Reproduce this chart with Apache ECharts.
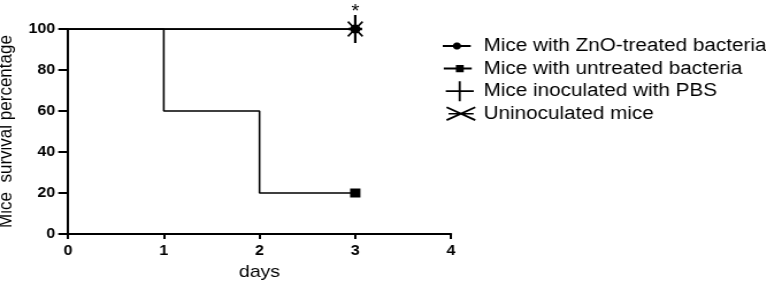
<!DOCTYPE html>
<html><head><meta charset="utf-8">
<script src="https://cdn.jsdelivr.net/npm/echarts@6/dist/echarts.min.js"></script>
<style>
html,body{margin:0;padding:0;background:#fff;overflow:hidden}
#wrap{width:766px;height:283px;overflow:hidden}
#c{width:666px;height:283px;transform:scaleX(1.15);transform-origin:0 0}
</style>
</head><body><div id="wrap"><div id="c"></div></div>
<script>
const seriesNames = ['Mice with ZnO-treated bacteria','Mice with untreated bacteria','Mice inoculated with PBS','Uninoculated mice'];
const days = [0, 1, 2, 3];
const znoValues = [100, 100, 100, 100];
const untreatedValues = [100, 60, 20, 20];
const pbsValues = [100, 100, 100, 100];
const uninocValues = [100, 100, 100, 100];
const xTicks = [0, 1, 2, 3, 4];
const yTicks = [0, 20, 40, 60, 80, 100];

const S = 1.15; // horizontal stretch of the reference picture
const px = v => v / S;

function orient(pts) {
  let a = 0;
  for (let i = 0; i < pts.length; i++) { const p = pts[i], q = pts[(i + 1) % pts.length]; a += p[0] * q[1] - q[0] * p[1]; }
  return a < 0 ? pts.slice().reverse() : pts;
}
function poly(pts) { return 'M' + orient(pts).map(p => p[0].toFixed(2) + ',' + p[1].toFixed(2)).join(' L') + ' Z'; }
function quad(x1, y1, x2, y2, w) {
  const dx = x2 - x1, dy = y2 - y1, L = Math.hypot(dx, dy);
  const nx = -dy / L * w, ny = dx / L * w;
  return poly([[x1 + nx, y1 + ny], [x2 + nx, y2 + ny], [x2 - nx, y2 - ny], [x1 - nx, y1 - ny]]);
}
function strokes(list, w) { return list.map(s => quad(s[0], s[1], s[2], s[3], w)).join(' '); }
// invisible specks at the corners fix the icon box to W x H
function boxed(body, W, H) { return 'path://M0,0 L0.01,0 L0,0.01 Z M' + W + ',' + H + ' L' + (W - 0.01) + ',' + H + ' L' + W + ',' + (H - 0.01) + ' Z ' + body; }
function circ(cx, cy, r) {
  const n = 28, pts = [];
  for (let i = 0; i < n; i++) { const t = i / n * Math.PI * 2; pts.push([cx + r * Math.cos(t), cy + r * Math.sin(t)]); }
  return poly(pts);
}

const LW = px(34), LH = 20;
const iconZnO = boxed(strokes([[px(1), 10, 13.2 - 3.4, 10], [13.2 + 3.4, 10, px(29), 10]], 1) + ' ' + circ(13.2, 10, 3.6), LW, LH);
const iconUnt = boxed(strokes([[px(2), 10, 15.7 - 3.4, 10], [15.7 + 3.4, 10, px(30), 10]], 1) + ' ' + poly([[12.3, 6.4], [19.1, 6.4], [19.1, 13.6], [12.3, 13.6]]), LW, LH);
const iconPBS = boxed(strokes([[3.5, 10, 15.6 - 0.9, 10], [15.6 + 0.9, 10, 27.8, 10]], 0.9) + ' ' + strokes([[15.6, 0, 15.6, 20]], 0.9), LW, LH);
const iconUni = boxed(strokes([[4.3, 3.5, 29.5, 16.5], [4.3, 16.5, 29.5, 3.5]], 0.95) + ' ' + poly([[6, 9.2], [28, 9.2], [28, 10.8], [6, 10.8]]), LW, LH);

const plusSym = 'path://' + strokes([[5, 0, 5, 20], [0, 10, 10, 10]], 0.9);
const xSym = 'path://' + strokes([[0, 0, 20, 20], [0, 20, 20, 0]], 1.3);

function mk(values, symbol, size, extraLast) {
  return values.map((v, i) => {
    const d = { value: [days[i], v] };
    if (i < values.length - 1) d.symbol = 'none';
    else { d.symbol = symbol; d.symbolSize = size; if (extraLast) Object.assign(d, extraLast); }
    return d;
  });
}

const chart = echarts.init(document.getElementById('c'));
const font = 'Arial, "Liberation Sans", sans-serif';
const base = {
  type: 'line', showAllSymbol: true,
  lineStyle: { color: '#000', width: 1.6 },
  itemStyle: { color: '#000' },
  emphasis: { disabled: true }
};
chart.setOption({
  animation: false,
  grid: { left: px(68), right: 666 - px(451), top: 29, bottom: 49, outerBoundsMode: 'none', containLabel: false },
  xAxis: {
    type: 'value', min: 0, max: 4, interval: 1,
    name: 'days', nameLocation: 'middle', nameGap: 30,
    nameTextStyle: { fontFamily: font, fontSize: 17, color: '#000' },
    axisLine: { lineStyle: { color: '#000', width: 2 } },
    axisTick: { show: true, length: 5, lineStyle: { color: '#000', width: 2 } },
    axisLabel: { fontFamily: font, fontSize: 14, fontWeight: 'bold', color: '#000', margin: 10,
      formatter: v => String(xTicks[xTicks.indexOf(v)]) },
    splitLine: { show: false }
  },
  yAxis: {
    type: 'value', min: 0, max: 100, interval: 20,
    name: 'Mice  survival percentage', nameLocation: 'middle', nameGap: 43,
    nameTextStyle: { fontFamily: font, fontSize: 17, color: '#000' },
    axisLine: { show: true, lineStyle: { color: '#000', width: 2 } },
    axisTick: { show: true, length: 8.5, lineStyle: { color: '#000', width: 2 } },
    axisLabel: { fontFamily: font, fontSize: 14, fontWeight: 'bold', color: '#000', margin: 11,
      formatter: v => String(yTicks[yTicks.indexOf(v)]) },
    splitLine: { show: false }
  },
  legend: {
    orient: 'vertical', left: px(436), top: 31, itemGap: 2.6,
    itemWidth: LW, itemHeight: LH,
    selectedMode: false,
    itemStyle: { color: '#000', borderWidth: 0 },
    textStyle: { fontFamily: font, fontSize: 18, color: '#000', padding: [0, 0, 0, 1.7] },
    data: [
      { name: seriesNames[0], icon: iconZnO },
      { name: seriesNames[1], icon: iconUnt },
      { name: seriesNames[2], icon: iconPBS },
      { name: seriesNames[3], icon: iconUni }
    ]
  },
  series: [
    Object.assign({}, base, { name: seriesNames[0], symbol: 'circle', symbolSize: 9, data: mk(znoValues, 'circle', 9) }),
    Object.assign({}, base, { name: seriesNames[1], symbol: 'rect', symbolSize: 9, step: 'end', data: mk(untreatedValues, 'rect', [9, 9]) }),
    Object.assign({}, base, { name: seriesNames[2], symbol: plusSym, symbolSize: [12, 28], data: mk(pbsValues, plusSym, [12, 28]) }),
    Object.assign({}, base, { name: seriesNames[3], symbol: xSym, symbolSize: [14, 16], data: mk(uninocValues, xSym, [14, 16], {
      label: { show: true, position: 'top', distance: 0, formatter: '*', fontFamily: font, fontSize: 18, color: '#000' }
    }) })
  ]
});
</script></body></html>
